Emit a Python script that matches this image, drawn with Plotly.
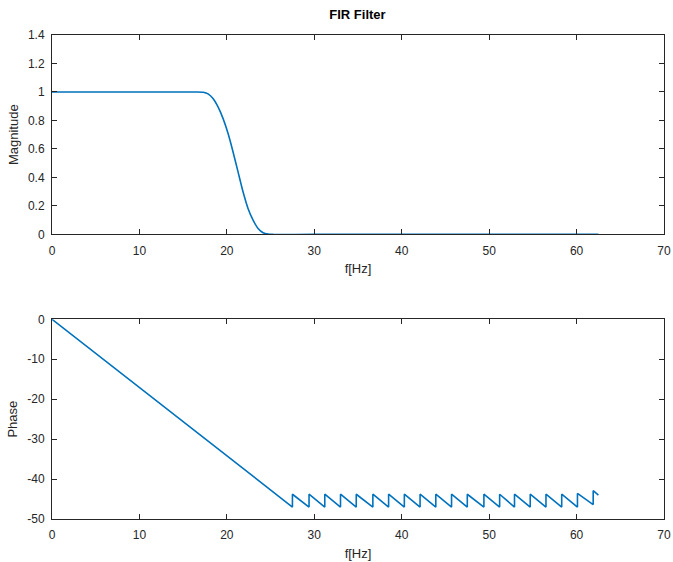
import plotly.graph_objects as go
from plotly.subplots import make_subplots

# Magnitude response
mag_f = [0, 5, 10, 15, 16.5, 17.3, 17.85, 18.42, 18.99, 19.57, 20.14, 20.71, 21.28,
         21.85, 22.42, 23.0, 23.57, 24.14, 24.71, 25.3, 30, 40, 50, 62.5]
mag_v = [1, 1, 1, 1, 1, 0.998, 0.987, 0.954, 0.895, 0.813, 0.708, 0.579, 0.439,
         0.299, 0.182, 0.100, 0.042, 0.012, 0.002, 0, 0, 0, 0, 0]

# Phase response vertices
ph_f = [0, 27.5, 27.5, 29.4, 29.4, 31.2, 31.2, 33.0, 33.0, 34.8, 34.8, 36.7, 36.7,
        38.5, 38.5, 40.3, 40.3, 42.1, 42.1, 43.9, 43.9, 45.7, 45.7, 47.5, 47.5,
        49.4, 49.4, 51.2, 51.2, 52.9, 52.9, 54.7, 54.7, 56.5, 56.5, 58.3, 58.3,
        60.1, 60.1, 61.9, 61.9, 62.5]
ph_v = [0, -47.0, -43.8, -47.0, -43.8, -47.0, -43.8, -47.0, -43.8, -47.0, -43.8, -47.0, -43.8,
        -47.0, -43.8, -47.0, -43.8, -47.0, -43.8, -47.0, -43.8, -47.0, -43.8, -47.0, -43.8,
        -47.0, -43.8, -47.0, -43.8, -47.0, -43.8, -47.0, -43.8, -47.0, -43.8, -47.0, -43.8,
        -47.0, -43.6, -46.4, -42.9, -44.0]

x_ticks = [0, 10, 20, 30, 40, 50, 60, 70]
x_ticktext = ["0", "10", "20", "30", "40", "50", "60", "70"]
mag_ticks = [0, 0.2, 0.4, 0.6, 0.8, 1, 1.2, 1.4]
mag_ticktext = ["0", "0.2", "0.4", "0.6", "0.8", "1", "1.2", "1.4"]
ph_ticks = [-50, -40, -30, -20, -10, 0]
ph_ticktext = ["-50", "-40", "-30", "-20", "-10", "0"]

line_color = "#0072BD"
axis_color = "#262626"
font_family = "Liberation Sans, Arial, sans-serif"

fig = make_subplots(rows=2, cols=1)
fig.add_trace(go.Scatter(x=mag_f, y=mag_v, mode="lines",
                         line=dict(color=line_color, width=1.6, shape="spline", smoothing=0.6)), row=1, col=1)
fig.add_trace(go.Scatter(x=ph_f, y=ph_v, mode="lines",
                         line=dict(color=line_color, width=1.6)), row=2, col=1)

axis_common = dict(showgrid=False, zeroline=False, showline=True, linecolor=axis_color, linewidth=1,
                   mirror="ticks", ticks="inside", ticklen=5, tickcolor=axis_color,
                   automargin=False, ticklabeloverflow="allow",
                   tickfont=dict(size=12, color=axis_color, family=font_family))

fig.update_layout(
    width=673, height=562,
    margin=dict(l=52, r=9, t=35, b=43),
    paper_bgcolor="white", plot_bgcolor="white",
    showlegend=False,
    font=dict(family=font_family, color=axis_color),
    title=dict(text="<b>FIR Filter</b>", x=0.5312, xanchor="center", y=0.975, yanchor="middle",
               font=dict(size=13, color="black", family=font_family)),
    xaxis=dict(domain=[0, 1], range=[0, 70], tickvals=x_ticks, ticktext=x_ticktext,
               ticklabelstandoff=5,
               title=dict(text="f[Hz]", standoff=7, font=dict(size=13)), **axis_common),
    yaxis=dict(domain=[0.588, 1], range=[0, 1.4], tickvals=mag_ticks, ticktext=mag_ticktext,
               ticklabelstandoff=4,
               title=dict(text="Magnitude", standoff=6, font=dict(size=13)), **axis_common),
    xaxis2=dict(domain=[0, 1], range=[0, 70], tickvals=x_ticks, ticktext=x_ticktext,
                ticklabelstandoff=5,
                title=dict(text="f[Hz]", standoff=7, font=dict(size=13)), **axis_common),
    yaxis2=dict(domain=[0, 0.4126], range=[-50, 0], tickvals=ph_ticks, ticktext=ph_ticktext,
                ticklabelstandoff=4,
                title=dict(text="Phase", standoff=6, font=dict(size=13)), **axis_common),
)

fig.write_html("out.html", config={"displayModeBar": False},
               post_script="document.body.style.margin='0';document.body.style.overflow='hidden';")
